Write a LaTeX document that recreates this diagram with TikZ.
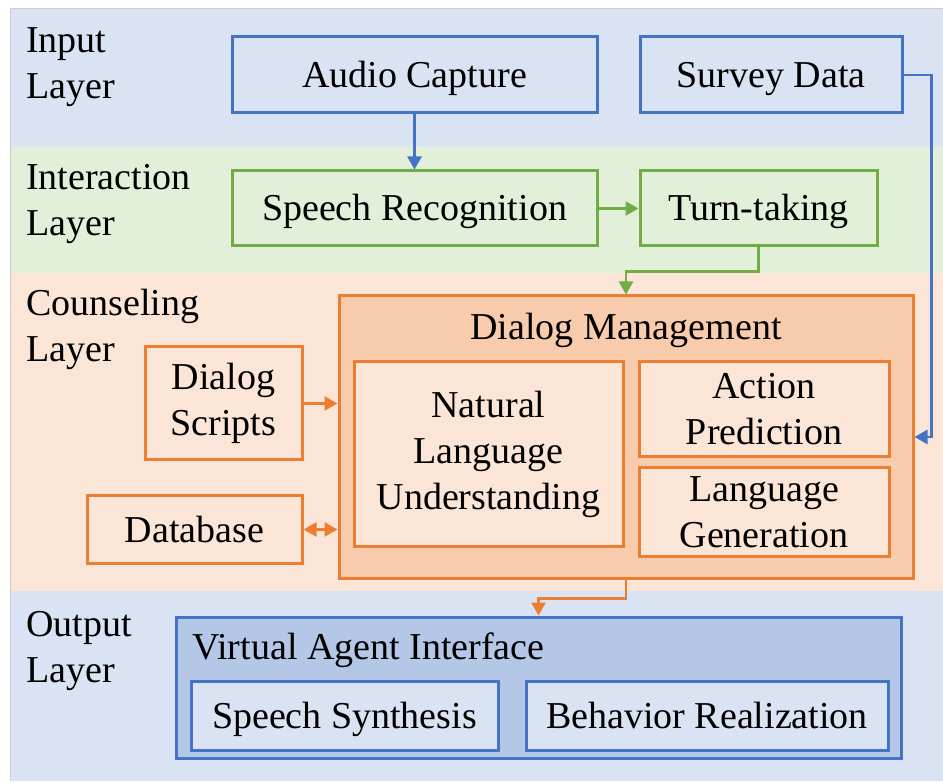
\documentclass[tikz,border=0pt]{standalone}
\usepackage{fontspec}
\setmainfont{Liberation Serif}
\definecolor{bandblue}{HTML}{DAE3F3}
\definecolor{bandgreen}{HTML}{E2F0D9}
\definecolor{bandpeach}{HTML}{FBE5D6}
\definecolor{dmfill}{HTML}{F8CBAD}
\definecolor{vaifill}{HTML}{B4C7E7}
\definecolor{lineblue}{HTML}{4472C4}
\definecolor{linegreen}{HTML}{70AD47}
\definecolor{lineorange}{HTML}{ED7D31}
\usetikzlibrary{arrows.meta, positioning}

\begin{document}
\begin{tikzpicture}[
  x=1pt, y=-1pt,
  txt/.style={font=\fontsize{38}{46}\selectfont, align=center},
  lyr/.style={txt, align=left, anchor=base west, inner sep=0pt},
  bx/.style={txt, draw, line width=3pt, inner sep=0pt},
  oneline/.style={text height=30pt, text depth=5pt},
  bluebx/.style={bx, draw=lineblue, fill=bandblue},
  greenbx/.style={bx, draw=linegreen, fill=bandgreen},
  orangebx/.style={bx, draw=lineorange, fill=bandpeach},
  arr/.style={-{Triangle[length=13pt, width=14pt]}, line width=2.6pt},
]
  \useasboundingbox (0,0) rectangle (943,783);
  % layer bands
  \fill[bandblue] (10,8) rectangle (943,147);
  \fill[bandgreen] (10,147) rectangle (943,273);
  \fill[bandpeach] (10,273) rectangle (943,591);
  \fill[bandblue] (10,591) rectangle (943,781);
  \draw[black!20, line width=0.8pt] (10,781) -- (10,8) -- (943,8);

  \node[lyr] (inlbl) at (26,99) {Input\\Layer};
  \node[lyr] (intlbl) at (26,236) {Interaction\\Layer};
  \node[lyr] (counlbl) at (26,362) {Counseling\\Layer};
  \node[lyr] (outlbl) at (26,682) {Output\\Layer};

  % input + interaction
  \node[bluebx, oneline, minimum width=365pt, minimum height=76pt] (audio) at (414.5,75) {Audio Capture};
  \node[bluebx, oneline, minimum width=262pt, minimum height=76pt] (survey) at (771,75) {Survey Data};
  \node[greenbx, oneline, minimum width=365pt, minimum height=75pt] (speech) at (414.5,208.5) {Speech Recognition};
  \node[greenbx, oneline, minimum width=237pt, minimum height=75pt] (turn) at (758.5,208.5) {Turn-taking};

  % counseling
  \node[bx, draw=lineorange, fill=dmfill, minimum width=574pt, minimum height=282pt] (dm) at (626,437) {};
  \node[txt] (dmtitle) at (626,330) {Dialog Management};
  \node[orangebx, minimum width=269pt, minimum height=184pt] (nlu) at (488.5,454) {Natural\\Language\\Understanding};
  \node[orangebx, minimum width=250pt, minimum height=95pt] (action) at (764,409.5) {Action\\Prediction};
  \node[orangebx, minimum width=250pt, minimum height=88pt] (gen) at (764,512) {Language\\Generation};
  \node[orangebx, minimum width=157pt, minimum height=113pt] (scripts) at (223.5,403.5) {Dialog\\Scripts};
  \node[orangebx, oneline, minimum width=215pt, minimum height=67pt] (db) at (194.5,529.5) {Database};

  % output
  \node[bx, draw=lineblue, fill=vaifill, minimum width=725pt, minimum height=141pt] (vai) at (538.5,687.5) {};
  \node[txt, anchor=west, inner sep=0pt] (vaititle) at (192,650) {Virtual Agent Interface};
  \node[bluebx, oneline, minimum width=307pt, minimum height=69pt] (synth) at (344.5,715.5) {Speech Synthesis};
  \node[bluebx, oneline, minimum width=362pt, minimum height=69pt] (behav) at (707,715.5) {Behavior Realization};

  % connectors
  \draw[arr, lineblue] (audio) -- (speech);
  \draw[arr, linegreen] (speech) -- (turn);
  \draw[arr, linegreen] (turn.south) -- ++(0,24) -| (dm.north);
  \draw[arr, lineblue] (survey.east) -- ++(28,0) |- (dm.east);
  \draw[arr, lineorange] (scripts.east) -- (scripts.east -| dm.west);
  \draw[arr, lineorange, {Triangle[length=13pt, width=14pt]}-{Triangle[length=13pt, width=14pt]}] (db.east) -- (db.east -| dm.west);
  \draw[arr, lineorange] (dm.south) -- ++(0,19) -| (vai.north);
\end{tikzpicture}
\end{document}
